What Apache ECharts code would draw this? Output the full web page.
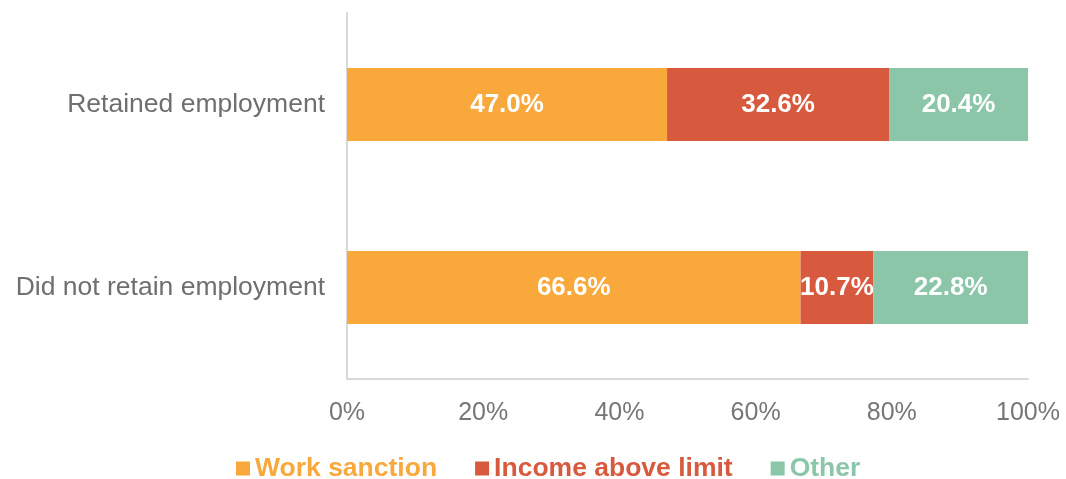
<!DOCTYPE html>
<html>
<head>
<meta charset="utf-8">
<script src="https://cdn.jsdelivr.net/npm/echarts@6/dist/echarts.min.js"></script>
<style>
  html, body { margin: 0; padding: 0; background: #fff; }
  #chart { width: 1066px; height: 479px; }
</style>
</head>
<body>
<div id="chart"></div>
<script>
// categories (top to bottom)
const categories = ['Retained employment', 'Did not retain employment'];
// series values, percent
const workSanction = [47.0, 66.6];
const incomeAboveLimit = [32.6, 10.7];
const other = [20.4, 22.8];
const xTicks = [0, 20, 40, 60, 80, 100];

const colors = ['#F9A83C', '#D85A3E', '#8BC6A8'];
const font = 'Liberation Sans, Arial, sans-serif';

const chart = echarts.init(document.getElementById('chart'));

const mkSeries = (name, data, color) => ({
  name: name,
  type: 'bar',
  stack: 'total',
  data: data,
  barWidth: 73,
  itemStyle: { color: color },
  label: {
    show: true,
    position: 'inside',
    color: '#fff',
    fontWeight: 'bold',
    fontSize: 26,
    fontFamily: font,
    formatter: (p) => p.value.toFixed(1) + '%'
  }
});

chart.setOption({
  animation: false,
  grid: { left: 347, right: 38, top: 13, bottom: 100 },
  legend: {
    top: 450,
    left: 231,
    itemWidth: 14,
    itemHeight: 14,
    itemGap: 38,
    icon: 'rect',
    textStyle: {
      fontSize: 26.5,
      fontWeight: 'bold',
      fontFamily: font
    },
    data: [
      { name: 'Work sanction', textStyle: { color: colors[0] } },
      { name: 'Income above limit', textStyle: { color: colors[1] } },
      { name: 'Other', textStyle: { color: colors[2] } }
    ]
  },
  xAxis: {
    type: 'value',
    min: xTicks[0],
    max: xTicks[xTicks.length - 1],
    interval: 20,
    axisLine: { show: true, lineStyle: { color: '#d9d9d9', width: 2 } },
    axisTick: { show: false },
    splitLine: { show: false },
    axisLabel: {
      fontSize: 25,
      color: '#767676',
      margin: 22,
      fontFamily: font,
      formatter: (v) => v + '%'
    }
  },
  yAxis: {
    type: 'category',
    inverse: true,
    data: categories,
    axisLine: { show: true, lineStyle: { color: '#d9d9d9', width: 2 } },
    axisTick: { show: false },
    axisLabel: {
      fontSize: 26.5,
      color: '#6f6f6f',
      margin: 22,
      fontFamily: font
    }
  },
  series: [
    mkSeries('Work sanction', workSanction, colors[0]),
    mkSeries('Income above limit', incomeAboveLimit, colors[1]),
    mkSeries('Other', other, colors[2])
  ]
});
</script>
</body>
</html>
